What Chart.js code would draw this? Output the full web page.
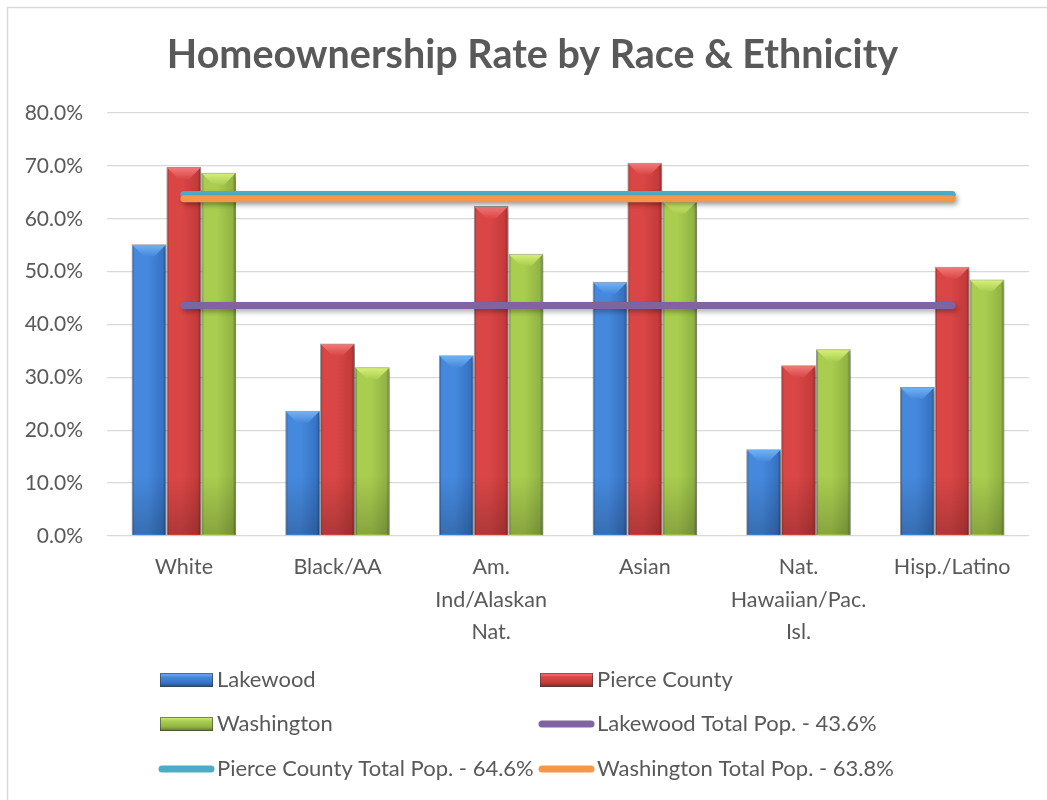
<!DOCTYPE html>
<html>
<head>
  <title>Homeownership Rate by Race &amp; Ethnicity</title>
  <script src="https://cdn.jsdelivr.net/npm/chart.js"></script>
  <style>
    body { margin: 0; background: #fff; }
    #wrap { width: 1047px; height: 800px; position: relative; }
  </style>
</head>
<body>
  <div id="wrap"><canvas id="chart"></canvas></div>

  <script>
    const TITLE = "Homeownership Rate by Race & Ethnicity";
    const categories = ["White", "Black/AA", ["Am.", "Ind/Alaskan", "Nat."], "Asian", ["Nat.", "Hawaiian/Pac.", "Isl."], "Hisp./Latino"];
    const lakewood = [55.2, 23.7, 34.2, 48.1, 16.4, 28.2];
    const pierceCounty = [69.8, 36.4, 62.4, 70.6, 32.3, 50.9];
    const washington = [68.7, 31.9, 53.4, 63.3, 35.3, 48.5];
    const lakewoodTotal = [43.6, 43.6, 43.6, 43.6, 43.6, 43.6];
    const pierceTotal = [64.6, 64.6, 64.6, 64.6, 64.6, 64.6];
    const washingtonTotal = [63.8, 63.8, 63.8, 63.8, 63.8, 63.8];
    const Y_MAX = 80;
    const Y_STEP = 10;

    const FONT = "Lato, 'Open Sans', sans-serif";
    const TEXT = "#595959";
    const CAT_PCT = 0.68;

    const shades = {
      blue:  { slot: 0, light: "#4589de", base: "#3772c2", dark: "#224c86", top: "#78b4f4" },
      red:   { slot: 1, light: "#da4646", base: "#c43a3a", dark: "#882323", top: "#f27d7d" },
      green: { slot: 2, light: "#a9cd4f", base: "#91b444", dark: "#5d7825", top: "#d9f27a" }
    };

    // horizontal "cylinder" gradient for each bar, positioned from the x scale
    function barFill(shade) {
      return function (c) {
        const chart = c.chart;
        const xs = chart.scales && chart.scales.x;
        if (c.type !== "data" || !xs || !xs.width) return shade.base;
        const cat = xs.width / categories.length;
        const group = cat * CAT_PCT;
        const bw = group / 3;
        const left = xs.getPixelForValue(c.dataIndex) - group / 2 + shade.slot * bw;
        const g = chart.ctx.createLinearGradient(left, 0, left + bw, 0);
        g.addColorStop(0, shade.dark);
        g.addColorStop(0.08, shade.light);
        g.addColorStop(0.45, shade.light);
        g.addColorStop(0.9, shade.base);
        g.addColorStop(1, shade.dark);
        return g;
      };
    }

    // white background, outer frame and the title
    const frame = {
      id: "frame",
      beforeDraw(chart) {
        const ctx = chart.ctx;
        ctx.save();
        ctx.fillStyle = "#fff";
        ctx.fillRect(0, 0, chart.width, chart.height);
        ctx.strokeStyle = "#d9d9d9";
        ctx.lineWidth = 1.5;
        ctx.strokeRect(7.5, 7.5, chart.width + 20, chart.height + 20);
        ctx.fillStyle = TEXT;
        ctx.font = "bold 39.5px " + FONT;
        ctx.textAlign = "center";
        ctx.textBaseline = "middle";
        ctx.fillText(TITLE, 532.5, 55);
        ctx.restore();
      }
    };

    const bevel = {
      id: "bevel",
      beforeDatasetDraw(chart) {
        const ctx = chart.ctx;
        ctx.save();
        ctx.shadowColor = "rgba(0,0,0,0.3)";
        ctx.shadowBlur = 5;
        ctx.shadowOffsetX = 2;
        ctx.shadowOffsetY = 3;
      },
      afterDatasetDraw(chart, args) {
        const ctx = chart.ctx;
        ctx.restore();
        const ds = chart.data.datasets[args.index];
        if (!ds.shade) return;
        ctx.save();
        args.meta.data.forEach(el => {
          const p = el.getProps(["x", "y", "base", "width"], true);
          const l = p.x - p.width / 2, r = p.x + p.width / 2;
          const h = p.base - p.y;
          const b = Math.min(12, h / 2);
          const inset = Math.min(12, p.width / 2 - 3);
          const tg = ctx.createLinearGradient(0, p.y, 0, p.y + b);
          tg.addColorStop(0, ds.shade.top);
          tg.addColorStop(1, ds.shade.light);
          ctx.fillStyle = tg;
          ctx.beginPath();
          ctx.moveTo(l + 1, p.y + 1);
          ctx.lineTo(r - 1, p.y + 1);
          ctx.lineTo(r - inset, p.y + b);
          ctx.lineTo(l + inset, p.y + b);
          ctx.closePath();
          ctx.fill();
          const dh = Math.min(60, h);
          const bg = ctx.createLinearGradient(0, p.base - dh, 0, p.base);
          bg.addColorStop(0, "rgba(0,0,0,0)");
          bg.addColorStop(1, "rgba(0,0,0,0.2)");
          ctx.fillStyle = bg;
          ctx.fillRect(l + 1, p.base - dh, p.width - 2, dh - 1);
        });
        ctx.restore();
      }
    };

    // two-column legend under the axis labels
    const gridLegend = {
      id: "gridLegend",
      afterDraw(chart) {
        const ctx = chart.ctx;
        const cols = [160, 540];
        const rows = [680, 724, 769];
        ctx.save();
        chart.data.datasets.forEach((ds, i) => {
          const x = cols[i % 2], y = rows[Math.floor(i / 2)];
          if (ds.shade) {
            const g = ctx.createLinearGradient(0, y - 7, 0, y + 7);
            g.addColorStop(0, ds.shade.top);
            g.addColorStop(0.3, ds.shade.light);
            g.addColorStop(0.7, ds.shade.base);
            g.addColorStop(1, ds.shade.dark);
            ctx.fillStyle = g;
            ctx.fillRect(x, y - 7, 53, 14);
            ctx.strokeStyle = "rgba(60,60,60,0.6)";
            ctx.lineWidth = 1;
            ctx.strokeRect(x + 0.5, y - 6.5, 52, 13);
          } else {
            ctx.strokeStyle = ds.borderColor;
            ctx.lineWidth = 7;
            ctx.lineCap = "round";
            ctx.beginPath();
            ctx.moveTo(x + 2, y);
            ctx.lineTo(x + 51, y);
            ctx.stroke();
          }
          ctx.fillStyle = TEXT;
          ctx.font = "22px " + FONT;
          ctx.textBaseline = "middle";
          ctx.textAlign = "left";
          ctx.fillText(ds.label, x + 57, y);
        });
        ctx.restore();
      }
    };

    function barSet(label, values, shade) {
      return {
        label: label,
        data: values,
        shade: shade,
        order: 2,
        backgroundColor: barFill(shade),
        borderColor: "rgba(70,70,70,0.55)",
        borderWidth: 1,
        categoryPercentage: CAT_PCT,
        barPercentage: 1
      };
    }

    function lineSet(label, values, color, order) {
      return {
        type: "line",
        label: label,
        data: values,
        order: order,
        borderColor: color,
        backgroundColor: color,
        borderWidth: 7,
        borderCapStyle: "round",
        pointRadius: 0,
        fill: false
      };
    }

    const chart = new Chart(document.getElementById("chart"), {
      type: "bar",
      data: {
        labels: categories,
        datasets: [
          barSet("Lakewood", lakewood, shades.blue),
          barSet("Pierce County", pierceCounty, shades.red),
          barSet("Washington", washington, shades.green),
          lineSet("Lakewood Total Pop. - 43.6%", lakewoodTotal, "#8064a2", 0),
          lineSet("Pierce County Total Pop. - 64.6%", pierceTotal, "#4bacc6", 1),
          lineSet("Washington Total Pop. - 63.8%", washingtonTotal, "#f79646", 0)
        ]
      },
      options: {
        animation: false,
        responsive: true,
        maintainAspectRatio: false,
        layout: { padding: { top: 113, left: 0, right: 18, bottom: 152 } },
        plugins: {
          legend: { display: false },
          tooltip: { enabled: false },
          title: { display: false }
        },
        scales: {
          x: {
            grid: { display: false },
            border: { display: false },
            ticks: {
              color: TEXT,
              font: { family: FONT, size: 21.5, lineHeight: 1.51 },
              padding: 7,
              maxRotation: 0,
              autoSkip: false
            },
            afterFit(scale) { scale.height = 112; }
          },
          y: {
            min: 0,
            max: Y_MAX,
            grid: { color: "#d9d9d9", lineWidth: 1.3, drawTicks: false },
            border: { display: false },
            ticks: {
              stepSize: Y_STEP,
              color: TEXT,
              font: { family: FONT, size: 21 },
              padding: 24,
              callback: v => v.toFixed(1) + "%"
            },
            afterFit(scale) { scale.width = 107; }
          }
        }
      },
      plugins: [frame, bevel, gridLegend]
    });
  </script>
</body>
</html>
